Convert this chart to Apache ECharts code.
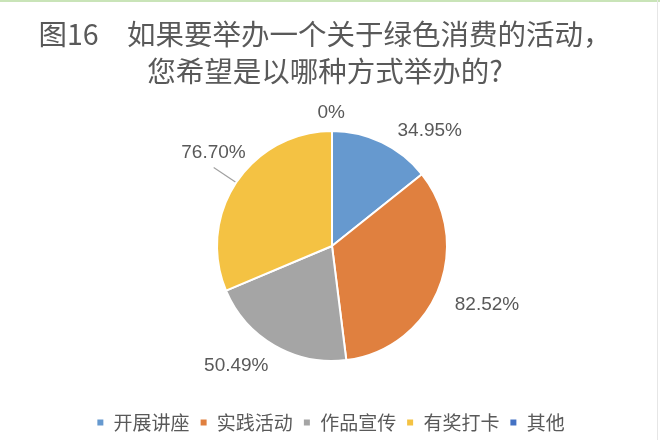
<!DOCTYPE html>
<html>
<head>
<meta charset="utf-8">
<script src="https://cdn.jsdelivr.net/npm/echarts@6/dist/echarts.min.js"></script>
<style>
html,body{margin:0;padding:0;background:#fff;}
#wrap{position:relative;width:660px;height:440px;}
#c{width:660px;height:440px;}
#topline{position:absolute;left:0;top:0;width:660px;height:2px;background:#c9e4b8;}
#rightline{position:absolute;right:2px;top:0;width:1px;height:440px;background:#e6e6e6;}
</style>
</head>
<body>
<div id="wrap"><div id="c"></div><div id="topline"></div><div id="rightline"></div></div>
<script>
// Data
const titleLines = ['图16　如果要举办一个关于绿色消费的活动，', '您希望是以哪种方式举办的?'];
const categories = ['开展讲座', '实践活动', '作品宣传', '有奖打卡', '其他'];
const values = [34.95, 82.52, 50.49, 76.70, 0];
const valueLabels = ['34.95%', '82.52%', '50.49%', '76.70%', '0%'];

// Styling (not data)
const colors = ['#6699cf', '#e0803f', '#a5a5a5', '#f4c243', '#4472c4'];
const labelTweaks = [
  { len: 13, len2: 5, dist: 5, dy: 0, line: false, raise: 0 },
  { len: 10, len2: 2, dist: 5, dy: 12, line: false, raise: 0 },
  { len: 18, len2: 0, dist: -3, dy: 5, line: false, raise: 0 },
  { len: 27, len2: 0, dist: -32, dy: 0, line: true, raise: 30 },
  { len: 21, len2: 0, dist: -13, dy: 3, line: false, raise: 0 }
];

const chart = echarts.init(document.getElementById('c'), null, { renderer: 'canvas' });
const textColor = '#595959';

const seriesData = categories.map((name, i) => {
  const t = labelTweaks[i];
  const label = {
    formatter: t.raise ? valueLabels[i] + '\n' : valueLabels[i],
    distanceToLabelLine: t.dist
  };
  if (t.raise) label.lineHeight = t.raise;
  return {
    name: name,
    value: values[i],
    itemStyle: { color: colors[i] },
    label: label,
    labelLine: {
      show: t.line,
      length: t.len,
      length2: t.len2
    }
  };
});

chart.setOption({
  backgroundColor: '#ffffff',
  animation: false,
  title: {
    text: titleLines.join('\n'),
    left: 320,
    top: 11,
    textAlign: 'center',
    textStyle: {
      fontFamily: '"Noto Sans CJK SC", sans-serif',
      fontSize: 28.5,
      fontWeight: 'normal',
      color: textColor,
      lineHeight: 37
    }
  },
  legend: {
    data: categories,
    bottom: 3,
    left: 'center',
    icon: 'rect',
    itemWidth: 8,
    itemHeight: 8,
    itemGap: 9,
    formatter: ' {name}',
    textStyle: {
      fontFamily: '"Noto Sans CJK SC", sans-serif',
      fontSize: 19,
      color: textColor
    }
  },
  series: [{
    type: 'pie',
    center: [332, 246],
    radius: 115,
    startAngle: 90,
    clockwise: true,
    avoidLabelOverlap: false,
    stillShowZeroSum: true,
    itemStyle: { borderColor: '#ffffff', borderWidth: 2 },
    label: {
      show: true,
      position: 'outside',
      fontFamily: '"Liberation Sans", Arial, sans-serif',
      fontSize: 19,
      color: textColor
    },
    labelLine: {
      lineStyle: { color: '#a0a0a0', width: 1.2 }
    },
    labelLayout: function (params) {
      const dy = labelTweaks[params.dataIndex].dy;
      return dy ? { dy: dy } : {};
    },
    emphasis: { disabled: true },
    data: seriesData
  }]
});
</script>
</body>
</html>
